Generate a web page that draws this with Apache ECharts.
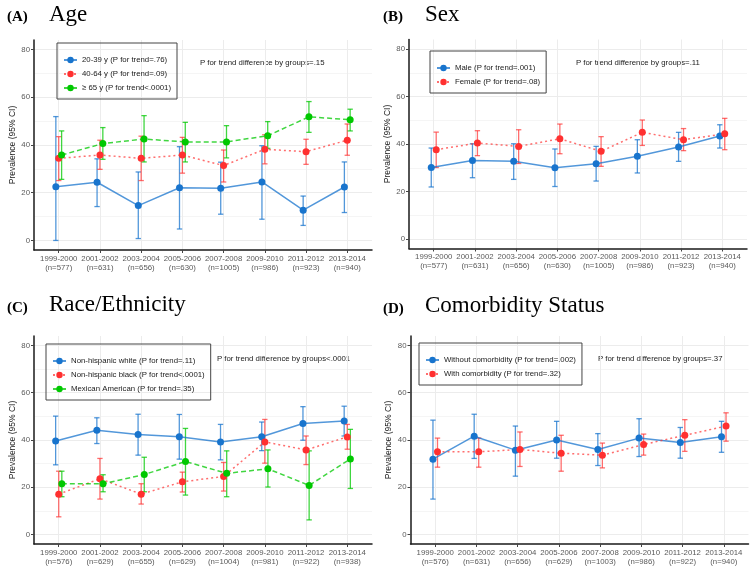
<!DOCTYPE html>
<html lang="en">
<head>
<meta charset="UTF-8">
<title>Prevalence trends</title>
<script src="https://cdn.jsdelivr.net/npm/echarts@6/dist/echarts.min.js"></script>
<style>
  html, body { margin: 0; padding: 0; background: #fff; }
  #main { width: 756px; height: 566px; }
</style>
</head>
<body>
<div id="main"></div>
<script>
// survey cycles and sample sizes
var periods = ['1999-2000', '2001-2002', '2003-2004', '2005-2006', '2007-2008', '2009-2010', '2011-2012', '2013-2014'];
var nAge = ['577', '631', '656', '630', '1005', '986', '923', '940'];
var nSex = ['577', '631', '656', '630', '1005', '986', '923', '940'];
var nRace = ['576', '629', '655', '629', '1004', '981', '922', '938'];
var nComorb = ['576', '631', '656', '629', '1003', '986', '922', '940'];

var yTicks = [0, 20, 40, 60, 80];
var yMinor = [10, 30, 50, 70];

// (A) age
var age2039 = [22.5, 24.4, 14.6, 22.1, 21.9, 24.5, 12.7, 22.4];
var age2039Lo = [0, 14.2, 0.8, 4.8, 11.0, 8.9, 6.3, 11.7];
var age2039Hi = [51.9, 34.2, 28.7, 39.3, 32.8, 39.7, 18.6, 32.9];
var age4064 = [34.4, 35.8, 34.4, 35.8, 31.4, 38.2, 37.2, 42.0];
var age4064Lo = [25.1, 29.8, 25.1, 28.2, 24.5, 32.1, 31.9, 35.7];
var age4064Hi = [43.5, 42.0, 43.7, 43.2, 37.9, 44.3, 42.4, 48.8];
var age65 = [35.8, 40.6, 42.5, 41.3, 41.3, 43.9, 51.8, 50.6];
var age65Lo = [25.6, 34.0, 32.9, 32.9, 34.6, 38.6, 45.3, 45.9];
var age65Hi = [45.9, 47.3, 52.3, 49.5, 48.1, 49.8, 58.2, 55.0];

// (B) sex
var male = [30.1, 33.1, 32.7, 30.0, 31.7, 34.8, 38.7, 43.4];
var maleLo = [21.9, 25.8, 25.1, 22.1, 24.4, 27.8, 32.7, 38.3];
var maleHi = [38.3, 40.1, 40.1, 37.9, 39.0, 41.8, 44.9, 48.1];
var female = [37.6, 40.4, 39.0, 42.2, 36.9, 44.9, 41.8, 44.3];
var femaleLo = [30.1, 35.1, 31.8, 35.9, 30.6, 39.4, 37.2, 37.6];
var femaleHi = [45.0, 45.6, 46.0, 48.4, 43.1, 50.1, 46.5, 50.8];

// (C) race/ethnicity
var white = [39.6, 44.1, 42.3, 41.4, 39.2, 41.4, 47.0, 48.0];
var whiteLo = [29.5, 38.5, 33.6, 31.9, 31.6, 35.5, 39.9, 41.7];
var whiteHi = [50.1, 49.4, 50.9, 50.8, 46.6, 47.6, 54.1, 54.3];
var black = [17.1, 23.6, 17.1, 22.3, 24.6, 39.2, 35.8, 41.3];
var blackLo = [7.5, 15.0, 12.9, 18.0, 18.4, 30.2, 29.6, 36.1];
var blackHi = [26.8, 32.2, 21.5, 26.4, 30.5, 48.7, 41.7, 46.6];
var mexican = [21.5, 21.5, 25.4, 30.9, 25.9, 27.8, 20.8, 32.0];
var mexicanLo = [16.0, 18.1, 18.1, 16.7, 16.0, 20.1, 6.2, 19.5];
var mexicanHi = [26.8, 25.3, 32.7, 44.9, 35.4, 35.8, 35.4, 44.5];

// (D) comorbidity
var noComorb = [31.9, 41.6, 35.7, 40.0, 36.0, 40.8, 38.9, 41.4];
var noComorbLo = [15.0, 32.2, 24.7, 32.3, 29.2, 33.0, 32.3, 34.8];
var noComorbHi = [48.4, 50.9, 45.9, 47.9, 42.7, 49.0, 45.3, 47.9];
var withComorb = [35.0, 35.0, 36.0, 34.4, 33.6, 38.1, 42.0, 45.9];
var withComorbLo = [28.5, 28.5, 28.8, 26.8, 28.2, 33.6, 35.2, 39.5];
var withComorbHi = [40.8, 40.8, 43.4, 42.0, 38.7, 42.5, 48.6, 51.5];

var BLUE = '#1874CD', RED = '#FF3030', GREEN = '#00C800';
var BLUE_A = 'rgba(24,116,205,0.75)', RED_A = 'rgba(255,48,48,0.7)', GREEN_A = 'rgba(0,200,0,0.75)';
var CAP = 0.065;
var FONT = '"Liberation Sans", Arial, sans-serif';
var SERIF = '"Liberation Serif", "Times New Roman", serif';

var panels = [
    {
        tag: '(A)', title: 'Age', n: nAge, note: 'P for trend difference by groups=.15',
        grid: {left: 34, top: 40, width: 338, height: 210},
        legend: {left: 57, top: 43}, tagXY: [7, 17], titleXY: [49, 14.5], noteXY: [200, 63],
        groups: [
            {name: '20-39 y (P for trend=.76)', mid: age2039, lo: age2039Lo, hi: age2039Hi, color: BLUE, faded: BLUE_A, dodge: -0.07, type: 'solid'},
            {name: '40-64 y (P for trend=.09)', mid: age4064, lo: age4064Lo, hi: age4064Hi, color: RED, faded: RED_A, dodge: 0, type: [2, 3]},
            {name: '\u2265 65 y (P for trend<.0001)', mid: age65, lo: age65Lo, hi: age65Hi, color: GREEN, faded: GREEN_A, dodge: 0.07, type: [5, 3]}
        ]
    },
    {
        tag: '(B)', title: 'Sex', n: nSex, note: 'P for trend difference by groups=.11',
        grid: {left: 409, top: 39.5, width: 338, height: 209},
        legend: {left: 430, top: 51}, tagXY: [383, 17.5], titleXY: [425, 14.5], noteXY: [576, 63],
        groups: [
            {name: 'Male (P for trend=.001)', mid: male, lo: maleLo, hi: maleHi, color: BLUE, faded: BLUE_A, dodge: -0.06, type: 'solid'},
            {name: 'Female (P for trend=.08)', mid: female, lo: femaleLo, hi: femaleHi, color: RED, faded: RED_A, dodge: 0.06, type: [2, 3]}
        ]
    },
    {
        tag: '(C)', title: 'Race/Ethnicity', n: nRace, note: 'P for trend difference by groups<.0001',
        grid: {left: 34, top: 336, width: 338, height: 208.5},
        legend: {left: 46, top: 344}, tagXY: [7, 308], titleXY: [49, 305], noteXY: [217, 359],
        groups: [
            {name: 'Non-hispanic white (P for trend=.11)', mid: white, lo: whiteLo, hi: whiteHi, color: BLUE, faded: BLUE_A, dodge: -0.075, type: 'solid'},
            {name: 'Non-hispanic black (P for trend<.0001)', mid: black, lo: blackLo, hi: blackHi, color: RED, faded: RED_A, dodge: 0, type: [2, 3]},
            {name: 'Mexican American (P for trend=.35)', mid: mexican, lo: mexicanLo, hi: mexicanHi, color: GREEN, faded: GREEN_A, dodge: 0.075, type: [5, 3]}
        ]
    },
    {
        tag: '(D)', title: 'Comorbidity Status', n: nComorb, note: 'P for trend difference by groups=.37',
        grid: {left: 410.5, top: 336, width: 338, height: 208.5},
        legend: {left: 419, top: 343}, tagXY: [383, 309], titleXY: [425, 305.5], noteXY: [598, 359],
        groups: [
            {name: 'Without comorbidity (P for trend=.002)', mid: noComorb, lo: noComorbLo, hi: noComorbHi, color: BLUE, faded: BLUE_A, dodge: -0.055, type: 'solid'},
            {name: 'With comorbidity (P for trend=.32)', mid: withComorb, lo: withComorbLo, hi: withComorbHi, color: RED, faded: RED_A, dodge: 0.055, type: [2, 3]}
        ]
    }
];

function errorBar(params, api) {
    var x = api.value(0);
    var top = api.coord([x, api.value(2)]);
    var bot = api.coord([x, api.value(1)]);
    var left = api.coord([x - CAP, 0])[0];
    var right = api.coord([x + CAP, 0])[0];
    var style = {stroke: api.visual('color'), lineWidth: 1.3};
    return {
        type: 'group',
        children: [
            {type: 'line', shape: {x1: top[0], y1: top[1], x2: bot[0], y2: bot[1]}, style: style},
            {type: 'line', shape: {x1: left, y1: top[1], x2: right, y2: top[1]}, style: style},
            {type: 'line', shape: {x1: left, y1: bot[1], x2: right, y2: bot[1]}, style: style}
        ]
    };
}

var catIdx = periods.map(function (p, i) { return i; });
var grids = [], xAxes = [], yAxes = [], series = [], legends = [], graphics = [];

panels.forEach(function (p, k) {
    grids.push(p.grid);
    xAxes.push({
        type: 'value', gridIndex: k, min: -0.6, max: 7.6,
        axisLine: {show: true, onZero: false, lineStyle: {color: '#1a1a1a', width: 1.5}},
        axisTick: {show: true, length: 3, customValues: catIdx, lineStyle: {color: '#444'}},
        axisLabel: {
            customValues: catIdx, margin: 4, fontSize: 7.8, lineHeight: 9, color: '#5a5a5a', fontFamily: FONT,
            formatter: function (v) { return periods[v] + '\n(n=' + p.n[v] + ')'; }
        },
        splitLine: {show: true, lineStyle: {color: '#ececec', width: 1}}
    });
    yAxes.push({
        type: 'value', gridIndex: k, min: -4, max: 84,
        name: 'Prevalence (95% CI)', nameLocation: 'middle', nameGap: 17,
        nameTextStyle: {fontSize: 8.5, color: '#222', fontFamily: FONT},
        axisLine: {show: true, onZero: false, lineStyle: {color: '#1a1a1a', width: 1.5}},
        axisTick: {show: true, length: 3, customValues: yTicks, lineStyle: {color: '#444'}},
        axisLabel: {customValues: yTicks, margin: 4, fontSize: 7.8, color: '#5a5a5a', fontFamily: FONT},
        splitLine: {show: true, lineStyle: {color: '#ececec', width: 1}}
    });
    // second axis only for the faint minor grid lines
    yAxes.push({
        type: 'value', gridIndex: k, min: -4, max: 84, position: 'left',
        axisLine: {show: false},
        axisTick: {show: false, customValues: yMinor},
        axisLabel: {show: false, customValues: yMinor},
        splitLine: {show: true, lineStyle: {color: '#f5f5f5', width: 1}}
    });

    p.groups.forEach(function (g) {
        series.push({
            type: 'custom', name: g.name + ' CI', xAxisIndex: k, yAxisIndex: 2 * k,
            renderItem: errorBar, itemStyle: {color: g.faded},
            encode: {x: 0, y: [1, 2]}, z: 2, silent: true,
            data: g.mid.map(function (v, i) { return [i + g.dodge, g.lo[i], g.hi[i]]; })
        });
    });
    p.groups.forEach(function (g) {
        series.push({
            type: 'line', name: g.name, xAxisIndex: k, yAxisIndex: 2 * k,
            symbol: 'circle', symbolSize: 7, z: 3, silent: true,
            itemStyle: {color: g.color},
            lineStyle: {color: g.faded, width: 1.5, type: g.type},
            data: g.mid.map(function (v, i) { return [i + g.dodge, v]; })
        });
    });

    legends.push({
        orient: 'vertical', left: p.legend.left, top: p.legend.top,
        padding: [12, 6, 6, 6], itemWidth: 13, itemHeight: 8, itemGap: 4,
        borderColor: '#444', borderWidth: 1, selectedMode: false,
        textStyle: {fontSize: 7.8, lineHeight: 10, color: '#1a1a1a', fontFamily: FONT},
        data: p.groups.map(function (g) { return g.name; })
    });

    graphics.push(
        {type: 'text', x: p.tagXY[0], y: p.tagXY[1], style: {text: p.tag, font: 'bold 15px ' + SERIF, fill: '#000', verticalAlign: 'middle'}},
        {type: 'text', x: p.titleXY[0], y: p.titleXY[1], style: {text: p.title, font: '23px ' + SERIF, fill: '#000', verticalAlign: 'middle'}},
        {type: 'text', x: p.noteXY[0], y: p.noteXY[1], style: {text: p.note, font: '7.8px ' + FONT, fill: '#1a1a1a', verticalAlign: 'middle'}}
    );
});

var myChart = echarts.init(document.getElementById('main'), null, {renderer: 'canvas'});
myChart.setOption({
    backgroundColor: '#fff',
    animation: false,
    grid: grids,
    xAxis: xAxes,
    yAxis: yAxes,
    legend: legends,
    graphic: graphics,
    series: series
});
</script>
</body>
</html>
